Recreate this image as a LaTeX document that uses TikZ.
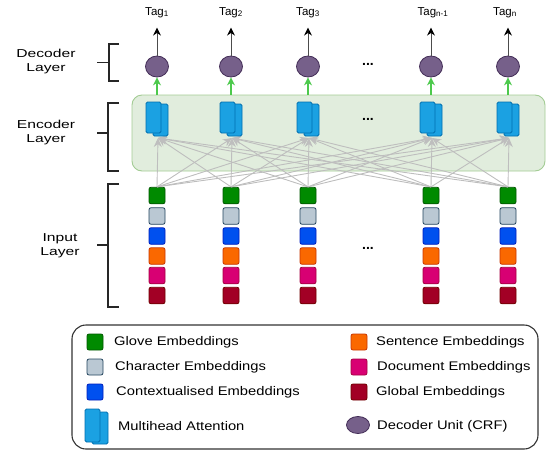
\documentclass[tikz,border=0pt]{standalone}
\usepackage{fontspec}
\setmainfont{Liberation Sans}
\newfontfamily\legfont{Liberation Sans}[FakeStretch=1.18]
\newfontfamily\labfont{Liberation Sans}[FakeStretch=1.36]
\usetikzlibrary{shapes.geometric,arrows.meta}
\definecolor{cglove}{HTML}{008A00}
\definecolor{cglovedk}{HTML}{005700}
\definecolor{cchar}{HTML}{BAC8D3}
\definecolor{cchardk}{HTML}{23445D}
\definecolor{cctx}{HTML}{0050EF}
\definecolor{cctxdk}{HTML}{001DBC}
\definecolor{csent}{HTML}{FA6800}
\definecolor{csentdk}{HTML}{C73500}
\definecolor{cdoc}{HTML}{D80073}
\definecolor{cdocdk}{HTML}{A50040}
\definecolor{cglob}{HTML}{A20025}
\definecolor{cglobdk}{HTML}{6F0000}
\definecolor{catt}{HTML}{1BA1E2}
\definecolor{cattdk}{HTML}{006EAF}
\definecolor{cdec}{HTML}{76608A}
\definecolor{cdecdk}{HTML}{432D57}
\definecolor{cencf}{HTML}{E1EDDD}
\definecolor{cencd}{HTML}{A3CC94}
\definecolor{cgray}{HTML}{BEBEBE}
\definecolor{cgreenarr}{HTML}{4CC94C}
\begin{document}
\begin{tikzpicture}[x=1pt,y=-1pt,
  sq/.style={rectangle, rounded corners=2pt, minimum width=16pt, minimum height=16.5pt, inner sep=0pt, line width=0.8pt},
  glove/.style={sq, fill=cglove, draw=cglovedk},
  charb/.style={sq, fill=cchar, draw=cchardk},
  ctx/.style={sq, fill=cctx, draw=cctxdk},
  sent/.style={sq, fill=csent, draw=csentdk},
  docb/.style={sq, fill=cdoc, draw=cdocdk},
  glob/.style={sq, fill=cglob, draw=cglobdk},
  decunit/.style={ellipse, minimum width=23pt, minimum height=21pt, inner sep=0pt, fill=cdec, draw=cdecdk, line width=0.8pt},
  attblk/.style={rectangle, rounded corners=1.5pt, minimum width=15pt, minimum height=31pt, inner sep=0pt, fill=catt, draw=cattdk, line width=0.8pt},
  brack/.style={line width=1.5pt, draw=black!85},
  grayarr/.style={draw=cgray, line width=0.9pt, -{Stealth[length=9pt,width=8pt]}},
  greenarr/.style={draw=cgreenarr, line width=1.3pt, -{Stealth[length=8pt,width=8pt]}},
  blackarr/.style={draw=black!70, line width=1pt, -{Stealth[length=8pt,width=8pt,color=black]}},
  taglab/.style={font=\fontsize{11.5}{14}\selectfont, inner sep=0pt, anchor=base},
  laylab/.style={font=\labfont\fontsize{11.5}{14}\selectfont, align=center, inner sep=0pt},
  legtxt/.style={font=\legfont\fontsize{12.5}{15}\selectfont, anchor=west, inner sep=0pt},
  dots/.style={font=\fontsize{14}{14}\selectfont\bfseries, inner sep=0pt}
]
\useasboundingbox (0,0) rectangle (547,453);

% encoder box
\node[draw=cencd, fill=cencf, line width=0.9pt, rounded corners=10pt, minimum width=413pt, minimum height=76pt, inner sep=0pt] (enc) at (338.5,133) {};

% columns
\foreach \i/\c in {1/157,2/231,3/308,4/431,5/508}{
  \node[glove] (g\i) at (\c,195.5) {};
  \node[charb] (c\i) at (\c,216) {};
  \node[ctx]   (x\i) at (\c,236) {};
  \node[sent]  (s\i) at (\c,256) {};
  \node[docb]  (d\i) at (\c,275.5) {};
  \node[glob]  (b\i) at (\c,295.5) {};
  \coordinate (ain\i) at (\c+1,138);
  \node[decunit] (dec\i) at (\c,66.5) {};
}
% gray connections
\foreach \i in {1,...,5}{
  \foreach \j in {1,...,5}{
    \draw[grayarr] (g\i.north) -- (ain\j);
  }
}
% attention blocks
\foreach \i/\c in {1/157,2/231,3/308,4/431,5/508}{
  \node[attblk, minimum height=32pt] (ab\i) at (\c+3.5,120) {};
  \node[attblk] (af\i) at (\c-3.5,117.5) {};
  \draw[greenarr] (dec\i |- enc.north) -- (dec\i.south);
}
% tags
\node[taglab] (t1) at (157,15) {Tag\textsubscript{1}};
\node[taglab] (t2) at (231,15) {Tag\textsubscript{2}};
\node[taglab] (t3) at (308,15) {Tag\textsubscript{3}};
\node[taglab] (t4) at (433,15) {Tag\textsubscript{n-1}};
\node[taglab] (t5) at (505,15) {Tag\textsubscript{n}};
\foreach \i in {1,...,5}{
  \draw[blackarr, shorten >=10pt] (dec\i.north) -- (dec\i |- t\i.south);
}

% dots
\node[dots] (dd) at (368,64) {...};
\node[dots] (de) at (368,119) {...};
\node[dots] (di) at (368,248) {...};

% brackets
\draw[brack] (119,44) -- (109,44) -- (109,81) -- (119,81);
\draw[brack] (97,62.5) -- (109,62.5);
\draw[brack] (119,103) -- (108,103) -- (108,171) -- (119,171);
\draw[brack] (97,133) -- (108,133);
\draw[brack] (119,184) -- (108,184) -- (108,307) -- (119,307);
\draw[brack] (97,245) -- (108,245);

\node[laylab] (ldec) at (46,62) {Decoder\\Layer};
\node[laylab] (lenc) at (46,133) {Encoder\\Layer};
\node[laylab] (linp) at (60,246) {Input\\Layer};

% legend
\node[draw=black!80, line width=1.1pt, rounded corners=14pt, minimum width=466pt, minimum height=124pt, inner sep=0pt] (leg) at (305,387) {};
\node[glove, minimum height=16pt] (lg) at (95,342) {};
\node[legtxt] (lgt) at (114,342) {Glove Embeddings};
\node[charb, minimum height=16pt] (lc) at (95,367) {};
\node[legtxt] (lct) at (115,367) {Character Embeddings};
\node[ctx, minimum height=16pt] (lx) at (95,392) {};
\node[legtxt] (lxt) at (116,392) {Contextualised Embeddings};
\node[attblk, minimum width=16pt, minimum height=32pt] (lab) at (100,428) {};
\node[attblk, minimum height=33pt] (laf) at (92.5,425.5) {};
\node[legtxt] (lat) at (118,426) {Multihead Attention};
\node[sent, minimum height=16pt] (ls) at (359,342) {};
\node[legtxt] (lst) at (376,342) {Sentence Embeddings};
\node[docb, minimum height=16pt] (ld) at (359,367) {};
\node[legtxt] (ldt) at (377,367) {Document Embeddings};
\node[glob, minimum height=16pt] (lb) at (359,392) {};
\node[legtxt] (lbt) at (376,392) {Global Embeddings};
\node[decunit, minimum height=17pt] (le) at (358,425) {};
\node[legtxt] (let) at (377,426) {Decoder Unit (CRF)};
\end{tikzpicture}
\end{document}
